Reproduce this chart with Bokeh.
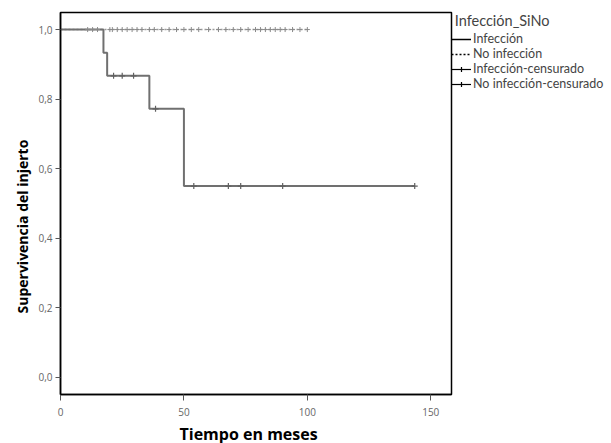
from bokeh.plotting import figure
from bokeh.models import (Range1d, FixedTicker, CustomJSTickFormatter, Legend, LegendItem,
                          ColumnDataSource, Title)
from bokeh.embed import file_html
from bokeh.resources import INLINE

# Kaplan-Meier data
inf_times = [0, 17.4, 18.9, 36.0, 50.0, 143.5]
inf_surv = [1.0, 0.933, 0.867, 0.772, 0.55, 0.55]
inf_cens_t = [21.5, 25.0, 29.6, 38.5, 54.0, 68.0, 73.0, 90.0, 143.5]
inf_cens_s = [0.867, 0.867, 0.867, 0.772, 0.55, 0.55, 0.55, 0.55, 0.55]

noinf_times = [0, 100.0]
noinf_surv = [1.0, 1.0]
noinf_cens_t = [11, 13, 15, 20, 21, 23, 25, 27, 29, 31, 33, 36, 38, 41, 44, 47, 50,
                53, 56, 60, 64, 67, 70, 73, 76, 79, 81, 83, 85, 87, 89, 91, 94, 97, 100]
noinf_cens_s = [1.0] * len(noinf_cens_t)

x_ticks = [0, 50, 100, 150]
y_ticks = [0.0, 0.2, 0.4, 0.6, 0.8, 1.0]

FONT = "Open Sans"
LFONT = "Lato"

p = figure(frame_width=391, frame_height=382, output_backend="svg", toolbar_location=None,
           x_range=Range1d(0, 158.4), y_range=Range1d(-0.049, 1.049),
           min_border_left=60, min_border_top=12, min_border_bottom=49, min_border_right=0)

p.xgrid.visible = False
p.ygrid.visible = False
p.outline_line_color = "black"
p.outline_line_width = 1.5
p.background_fill_color = "white"
p.border_fill_color = "white"

for ax in (p.xaxis[0], p.yaxis[0]):
    ax.axis_line_color = "black"
    ax.axis_line_width = 1.5
    ax.major_tick_in = 0
    ax.minor_tick_line_color = None
    ax.major_tick_line_color = "#555555"
    ax.major_label_text_font = FONT
    ax.major_label_text_font_size = "10px"
    ax.major_label_text_color = "#666666"
p.xaxis.major_tick_out = 6
p.yaxis.major_tick_out = 5

p.xaxis.ticker = FixedTicker(ticks=x_ticks)
p.yaxis.ticker = FixedTicker(ticks=y_ticks)
p.yaxis.formatter = CustomJSTickFormatter(code="return tick.toFixed(1).replace('.', ',');")
p.xaxis.major_label_standoff = 7
p.yaxis.major_label_standoff = 3

# axis titles
p.add_layout(Title(text="Supervivencia del injerto", align="left", offset=81, standoff=8,
                   text_font=FONT, text_font_style="bold", text_font_size="14px",
                   text_color="black"), "left")
p.add_layout(Title(text="Tiempo en meses", align="left", offset=119, standoff=4,
                   text_font=FONT, text_font_style="bold", text_font_size="16px",
                   text_color="black"), "below")

r_noinf = p.step(noinf_times, noinf_surv, mode="after", line_color="#9a9a9a", line_width=1.5,
                 line_dash="2 2")
r_inf = p.step(inf_times, inf_surv, mode="after", line_color="#707070", line_width=2)
r_noinf_c = p.scatter(noinf_cens_t, noinf_cens_s, marker="cross", size=5, line_color="#8a8a8a",
                      line_width=1)
r_inf_c = p.scatter(inf_cens_t, inf_cens_s, marker="cross", size=6, line_color="#606060",
                    line_width=1.2)

# legend-only glyphs (one point far outside the visible range)
off = ColumnDataSource(data=dict(x=[-1000], y=[-1000]))
l_inf = p.line("x", "y", source=off, line_color="black", line_width=1.5)
l_noinf = p.line("x", "y", source=off, line_color="black", line_width=1.5, line_dash="2 2")
l_c1 = p.line("x", "y", source=off, line_color="black", line_width=1.2)
m_c1 = p.scatter("x", "y", source=off, marker="cross", size=11, line_color="black", line_width=1.2)
l_c2 = p.line("x", "y", source=off, line_color="black", line_width=1.2)
m_c2 = p.scatter("x", "y", source=off, marker="cross", size=11, line_color="black", line_width=1.2)

legend = Legend(items=[
    LegendItem(label="Infección", renderers=[l_inf]),
    LegendItem(label="No infección", renderers=[l_noinf]),
    LegendItem(label="Infección-censurado", renderers=[l_c1, m_c1]),
    LegendItem(label="No infección-censurado", renderers=[l_c2, m_c2]),
], title="\u00a0Infección_SiNo", location="top_left")
legend.border_line_color = None
legend.background_fill_alpha = 0
legend.padding = 0
legend.margin = 0
legend.glyph_width = 20
legend.glyph_height = 12
legend.label_standoff = 2
legend.spacing = 0
legend.label_text_font = LFONT
legend.label_text_font_size = "12.5px"
legend.label_height = 12
legend.title_text_font = LFONT
legend.title_text_font_size = "14.5px"
legend.title_text_font_style = "normal"
legend.title_standoff = 2
p.add_layout(legend, "right")

open("out.html", "w").write(file_html(p, INLINE))
